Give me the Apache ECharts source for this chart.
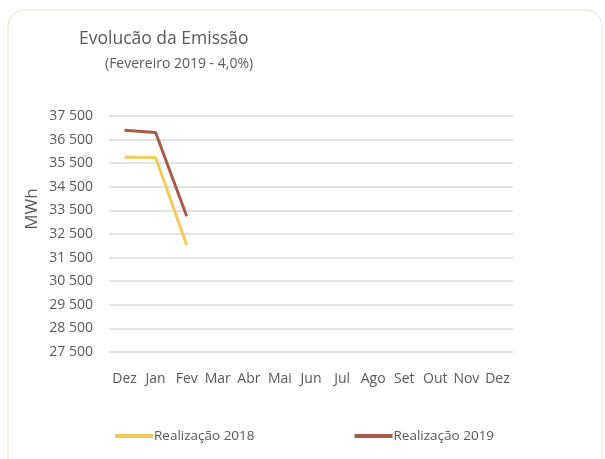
<!DOCTYPE html>
<html><head><meta charset="utf-8">
<script src="https://cdn.jsdelivr.net/npm/echarts@6/dist/echarts.min.js"></script>
<style>html,body{margin:0;padding:0;background:#fff;}#c{width:605px;height:459px;}</style>
</head><body><div id="c"></div>
<script>
const categories = ['Dez','Jan','Fev','Mar','Abr','Mai','Jun','Jul','Ago','Set','Out','Nov','Dez'];
const real2018 = [35750, 35740, 32030];
const real2019 = [36900, 36800, 33250];
const titleText = 'Evolucão da Emissão';
const subtitleText = '(Fevereiro 2019 - 4,0%)';
const yName = 'MWh';
const font = 'Open Sans';
const chart = echarts.init(document.getElementById('c'));
chart.setOption({
  animation: false,
  graphic: [
    {type:'rect', shape:{x:8,y:10,width:594,height:470,r:16}, style:{fill:'none',stroke:'#e6e2cc',lineWidth:1}, z:-1},
    {type:'text', x:32, y:209, rotation:Math.PI/2, style:{text:yName, fontFamily:font, fontSize:17, fill:'#595959', align:'center', verticalAlign:'middle'}}
  ],
  title: [
    {text: titleText, left: 74, top: 25, textStyle:{fontFamily:font, fontSize:17.5, fontWeight:'normal', color:'#595959'}},
    {text: subtitleText, left: 100, top: 52, textStyle:{fontFamily:font, fontSize:14, fontWeight:'normal', color:'#595959'}}
  ],
  legend: {
    bottom: 11, left: 110, itemGap: 100, itemWidth: 38, itemHeight: 4,
    icon: 'rect',
    textStyle:{fontFamily:font, fontSize:13.5, color:'#595959', padding:[0,0,0,-4]},
    data: ['Realização 2018','Realização 2019']
  },
  grid: {left:109, right:92, top:116, bottom:107},
  xAxis: {
    type:'category', data: categories, boundaryGap:true,
    axisLine:{show:false}, axisTick:{show:false},
    axisLabel:{fontFamily:font, fontSize:14, color:'#595959', margin:20, interval:0}
  },
  yAxis: {
    type:'value', min:27500, max:37500, interval:1000,
    axisLine:{show:false}, axisTick:{show:false},
    axisLabel:{fontFamily:font, fontSize:14, color:'#595959', margin:16,
      formatter: v => String(v).replace(/\B(?=(\d{3})+(?!\d))/g,' ')},
    splitLine:{lineStyle:{color:'#d9d9d9', width:1.5}}
  },
  series: [
    {name:'Realização 2018', type:'line', data: real2018, symbol:'none', lineStyle:{color:'#F3C95C', width:3}, itemStyle:{color:'#F3C95C'}},
    {name:'Realização 2019', type:'line', data: real2019, symbol:'none', lineStyle:{color:'#A65D45', width:3}, itemStyle:{color:'#A65D45'}}
  ]
});
</script></body></html>
